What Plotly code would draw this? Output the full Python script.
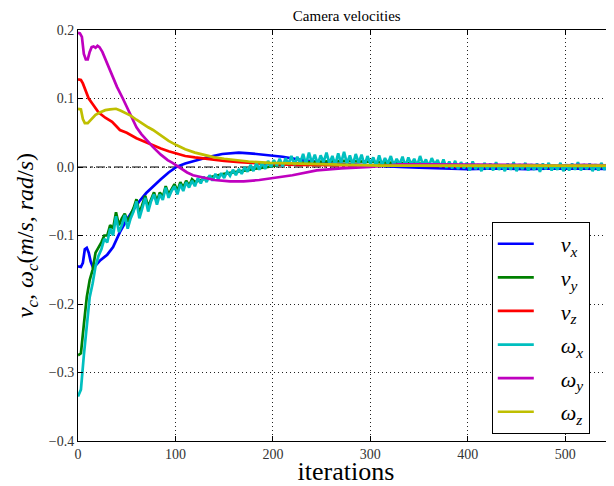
import plotly.graph_objects as go

# iteration grids and values for each series
vx_it = [0, 3, 5, 7, 9, 11, 13, 15, 18, 23, 30, 36, 43, 50, 57, 63, 70, 77, 85, 93, 101, 110,
         122, 135, 148, 156, 165, 176, 190, 210, 230, 245, 260, 289, 310, 330, 350, 380, 400,
         430, 460, 490, 520, 549]
vx = [-0.145, -0.146, -0.14, -0.12, -0.118, -0.125, -0.138, -0.145, -0.144, -0.136, -0.128,
      -0.117, -0.095, -0.077, -0.062, -0.05, -0.038, -0.028, -0.018, -0.008, 0.0, 0.005,
      0.01, 0.015, 0.019, 0.02, 0.021, 0.02, 0.018, 0.015, 0.01, 0.007, 0.005, 0.003, 0.001,
      0.0, -0.001, -0.002, -0.003, -0.002, -0.003, -0.002, -0.003, -0.003]

vy_it = list(range(0, 120, 3)) + [120, 135, 150, 165, 180, 195, 210, 230, 250, 275, 300,
                                   325, 350, 375, 400, 450, 500, 549]
vy = [-0.275, -0.272, -0.23, -0.19, -0.165, -0.15, -0.125, -0.118, -0.11, -0.1,
      -0.1, -0.085, -0.09, -0.066, -0.085, -0.075, -0.068, -0.08, -0.07, -0.06,
      -0.047, -0.068, -0.055, -0.042, -0.058, -0.046, -0.037, -0.05, -0.037, -0.044,
      -0.028, -0.04, -0.032, -0.025, -0.035, -0.022, -0.03, -0.02, -0.027, -0.018,
      -0.022, -0.015, -0.01, -0.006, -0.003, 0.0, 0.004, 0.006, 0.008, 0.009, 0.007,
      0.006, 0.005, 0.003, 0.001, 0.0, 0.0, 0.0]

vz_it = [0, 3, 5, 8, 11, 15, 21, 28, 35, 43, 50, 60, 70, 77, 85, 93, 101, 110, 120, 132,
         140, 150, 166, 175, 190, 200, 225, 250, 275, 300, 350, 400, 450, 500, 549]
vz = [0.128, 0.127, 0.122, 0.11, 0.1, 0.092, 0.08, 0.072, 0.066, 0.054, 0.05, 0.042, 0.036,
      0.031, 0.027, 0.023, 0.02, 0.016, 0.014, 0.012, 0.01, 0.009, 0.007, 0.006, 0.005,
      0.004, 0.003, 0.003, 0.002, 0.002, 0.002, 0.001, 0.001, 0.001, 0.001]

wx_it = list(range(0, 550, 3))
wx = [-0.335, -0.325, -0.275, -0.23, -0.19, -0.17, -0.145, -0.13, -0.12, -0.105,
      -0.11, -0.09, -0.1, -0.072, -0.095, -0.085, -0.07, -0.09, -0.075, -0.065,
      -0.05, -0.075, -0.06, -0.045, -0.065, -0.05, -0.04, -0.055, -0.04, -0.048,
      -0.03, -0.045, -0.035, -0.028, -0.04, -0.025, -0.035, -0.022, -0.03, -0.02,
      -0.028, -0.016, -0.024, -0.014, -0.022, -0.012, -0.02, -0.01, -0.018, -0.009,
      -0.016, -0.007, -0.013, -0.004, -0.012, -0.003, -0.01, 0.0, -0.007, 0.003,
      -0.006, 0.006, -0.004, 0.007, -0.003, 0.009, 0.0, 0.01, 0.002, 0.012,
      0.001, 0.013, 0.004, 0.016, 0.003, 0.015, 0.006, 0.019, 0.004, 0.021,
      0.006, 0.018, 0.004, 0.017, 0.007, 0.021, 0.005, 0.016, 0.003, 0.02,
      0.006, 0.022, 0.005, 0.017, 0.003, 0.019, 0.006, 0.018, 0.002, 0.016,
      0.005, 0.014, 0.002, 0.017, 0.003, 0.013, 0.005, 0.016, 0.002, 0.012,
      0.004, 0.015, 0.001, 0.014, 0.004, 0.012, 0.002, 0.016, 0.003, 0.011,
      0.001, 0.013, 0.004, 0.01, 0.0, 0.011, -0.001, 0.008, -0.002, 0.009,
      -0.003, 0.007, -0.002, 0.006, -0.005, 0.008, -0.003, 0.004, -0.006, 0.006,
      -0.003, 0.005, -0.005, 0.007, -0.004, 0.003, -0.006, 0.005, -0.004, 0.007,
      -0.006, 0.004, -0.003, 0.006, -0.005, 0.004, -0.004, 0.005, -0.007, 0.005,
      -0.003, 0.006, -0.005, 0.003, -0.004, 0.006, -0.006, 0.004, -0.005, 0.005,
      -0.004, 0.007, -0.005, 0.004, -0.003, 0.005, -0.006, 0.004, -0.005, 0.006,
      -0.004, 0.004, -0.005, 0.004]

wy_it = [0, 2, 4, 6, 8, 10, 12, 14, 16, 18, 20, 22, 25, 28, 32, 36, 40, 46, 50, 55, 60, 65,
         70, 77, 85, 92, 97, 105, 112, 118, 128, 140, 156, 170, 186, 200, 220, 245, 270, 300,
         330, 360, 381, 400, 430, 460, 490, 520, 549]
wy = [0.196, 0.195, 0.19, 0.165, 0.157, 0.157, 0.168, 0.175, 0.176, 0.174, 0.177, 0.175,
      0.168, 0.158, 0.145, 0.13, 0.117, 0.1, 0.088, 0.073, 0.058, 0.048, 0.04, 0.029, 0.018,
      0.01, 0.006, -0.002, -0.008, -0.012, -0.015, -0.019, -0.021, -0.021, -0.019, -0.016,
      -0.012, -0.005, -0.002, 0.0, 0.004, 0.004, 0.004, 0.003, 0.003, 0.003, 0.002, 0.003,
      0.002]

wz_it = [0, 3, 5, 7, 10, 13, 18, 23, 28, 33, 39, 44, 49, 54, 60, 66, 72, 77, 85, 93, 101,
         110, 120, 128, 140, 150, 163, 175, 197, 220, 250, 280, 310, 350, 400, 450, 500, 549]
wz = [0.085, 0.084, 0.07, 0.064, 0.064, 0.068, 0.076, 0.08, 0.083, 0.084, 0.085, 0.082,
      0.079, 0.075, 0.069, 0.063, 0.058, 0.054, 0.046, 0.038, 0.032, 0.026, 0.021, 0.018,
      0.014, 0.012, 0.01, 0.008, 0.006, 0.005, 0.004, 0.003, 0.002, 0.002, 0.002, 0.002,
      0.002, 0.002]

series = [
    (vx_it, vx, "#0000ff", "<i>v</i><sub><i>x</i></sub>"),
    (vy_it, vy, "#008000", "<i>v</i><sub><i>y</i></sub>"),
    (vz_it, vz, "#ff0000", "<i>v</i><sub><i>z</i></sub>"),
    (wx_it, wx, "#00bfbf", "<i>ω</i><sub><i>x</i></sub>"),
    (wy_it, wy, "#bf00bf", "<i>ω</i><sub><i>y</i></sub>"),
    (wz_it, wz, "#bfbf00", "<i>ω</i><sub><i>z</i></sub>"),
]

serif = "Liberation Serif, Times New Roman, DejaVu Serif, serif"
pad = "&nbsp;" * 4

fig = go.Figure()
for i, (it, vals, col, name) in enumerate(series):
    fig.add_trace(go.Scatter(x=it, y=vals, mode="lines", name=pad + name,
                             legendgroup="g%d" % i,
                             line=dict(color=col, width=2.7)))

# dash-dot zero reference
fig.add_shape(type="line", xref="paper", x0=0, x1=1, yref="y", y0=0, y1=0,
              line=dict(color="black", width=1, dash="dashdot"), layer="below")

axis_common = dict(showline=True, linecolor="black", linewidth=1, mirror="allticks",
                   ticks="inside", ticklen=5, tickcolor="black",
                   showgrid=True, gridcolor="#222", griddash="1px,3px", gridwidth=1,
                   zeroline=False, tickfont=dict(family=serif, size=14, color="#333"))

fig.update_xaxes(range=[0, 550], tickvals=[0, 100, 200, 300, 400, 500], **axis_common,
                 title=dict(text="iterations", font=dict(family=serif, size=26, color="black"),
                            standoff=2))
fig.update_yaxes(range=[-0.4, 0.2], dtick=0.1, tickformat=".1f", **axis_common,
                 title=dict(text="<i>v</i><sub><i>c</i></sub><i>,</i> <i>ω</i><sub><i>c</i></sub>"
                                 "(<i>m</i>/<i>s</i><i>,</i> <i>rad</i>/<i>s</i>)",
                            font=dict(family=serif, size=24, color="black"), standoff=8))

# the page body adds an 8px offset, so the figure is sized to end at the window edge
fig.update_layout(
    width=606, height=478,
    margin=dict(l=70, r=0, t=22, b=45, autoexpand=False),
    plot_bgcolor="white", paper_bgcolor="white",
    title=dict(text="Camera velocities", x=0.559, xanchor="center", y=0.984, yanchor="middle",
               font=dict(family=serif, size=15, color="black")),
    legend=dict(x=0.772, y=0.533, xanchor="left", yanchor="top",
                bgcolor="white", bordercolor="black", borderwidth=1,
                font=dict(family=serif, size=22, color="black"),
                itemwidth=36, tracegroupgap=2),
    showlegend=True,
)

fig.write_html("out.html")
